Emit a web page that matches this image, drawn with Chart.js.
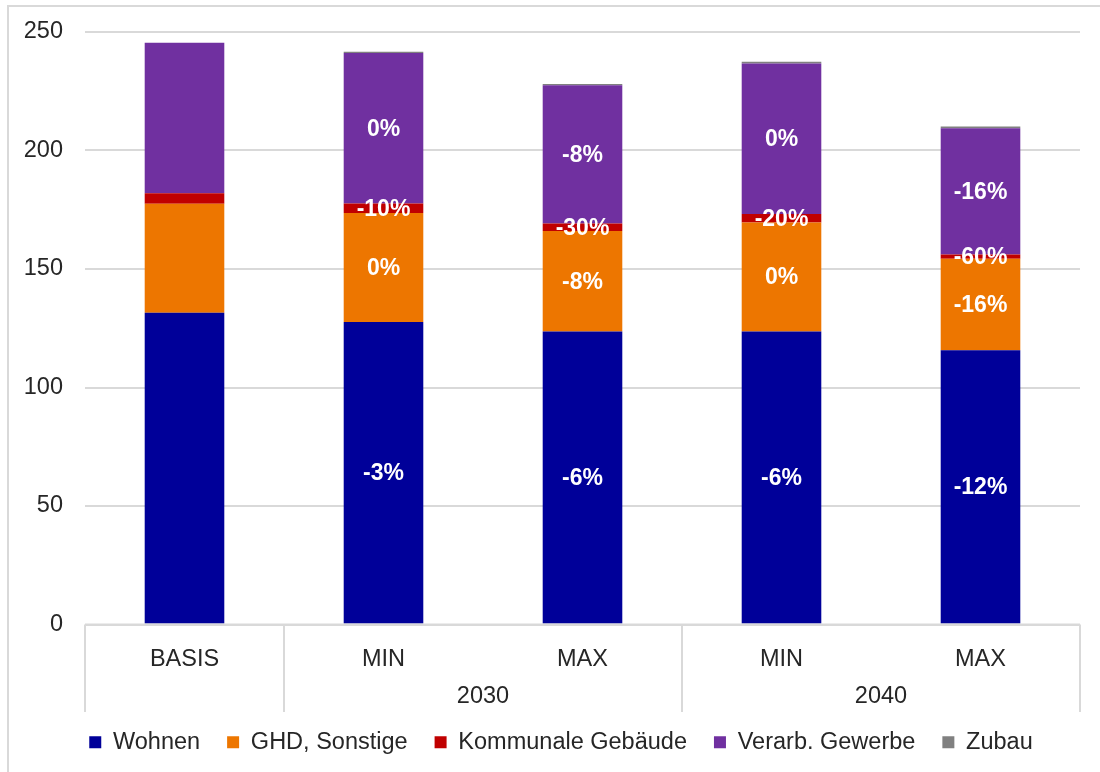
<!DOCTYPE html>
<html>
<head>
<meta charset="utf-8">
<script src="https://cdn.jsdelivr.net/npm/chart.js@4.4.1/dist/chart.umd.min.js"></script>
<style>
  html, body { margin: 0; padding: 0; background: #fff; }
  #wrap { width: 1100px; height: 772px; position: relative; }
</style>
</head>
<body>
<div id="wrap"><canvas id="chart"></canvas></div>
<script>
// categories + groups of the two-level x axis
const categories = ['BASIS', 'MIN', 'MAX', 'MIN', 'MAX'];
const groupLabels = ['', '2030', '2040'];
const groupStart = [0, 1, 3];
const groupEnd = [0, 2, 4];

// series values
const wohnen = [131.5, 127.6, 123.6, 123.6, 115.7];
const ghd = [46.0, 46.0, 42.4, 46.0, 38.6];
const kommunal = [4.5, 4.05, 3.15, 3.6, 1.8];
const verarb = [63.5, 63.5, 58.4, 63.5, 53.3];
const zubau = [0, 0.5, 0.5, 0.7, 0.7];

// change labels printed inside the segments
const wohnenPct = ['', '-3%', '-6%', '-6%', '-12%'];
const ghdPct = ['', '0%', '-8%', '0%', '-16%'];
const kommunalPct = ['', '-10%', '-30%', '-20%', '-60%'];
const verarbPct = ['', '0%', '-8%', '0%', '-16%'];

const yTicks = [0, 50, 100, 150, 200, 250];

const FONT = '"Liberation Sans", Arial, sans-serif';
const TEXT = '#262626';
const GRID = '#d9d9d9';
const FS = 23.5;

const pctLabels = [wohnenPct, ghdPct, kommunalPct, verarbPct, null];

// white percentage labels centred in each segment
const segmentLabels = {
  id: 'segmentLabels',
  afterDatasetsDraw(chart) {
    const ctx = chart.ctx;
    ctx.save();
    ctx.font = 'bold 23px ' + FONT;
    ctx.fillStyle = '#fff';
    ctx.textAlign = 'center';
    ctx.textBaseline = 'middle';
    chart.data.datasets.forEach((ds, i) => {
      const labels = pctLabels[i];
      if (!labels) return;
      chart.getDatasetMeta(i).data.forEach((bar, j) => {
        if (!labels[j]) return;
        const p = bar.getCenterPoint();
        ctx.fillText(labels[j], p.x, p.y + 1);
      });
    });
    ctx.restore();
  }
};

// frame, x baseline, group separators and year labels
const axisGroups = {
  id: 'axisGroups',
  afterLayout(chart) {
    // legend sits a little right of the canvas centre in the original
    if (chart.legend) chart.legend.left = 42;
  },
  beforeDraw(chart) {
    const ctx = chart.ctx;
    ctx.save();
    ctx.strokeStyle = GRID;
    ctx.lineWidth = 2;
    ctx.beginPath();
    ctx.moveTo(8, 772);
    ctx.lineTo(8, 6);
    ctx.lineTo(1100, 6);
    ctx.stroke();
    ctx.restore();
  },
  afterDraw(chart) {
    const ctx = chart.ctx;
    const x = chart.scales.x;
    const area = chart.chartArea;
    const n = categories.length;
    const edge = k => k === 0 ? area.left : k === n ? area.right
      : (x.getPixelForValue(k - 1) + x.getPixelForValue(k)) / 2;
    const bottom = 712;
    ctx.save();
    ctx.strokeStyle = GRID;
    ctx.lineWidth = 2;
    ctx.beginPath();
    ctx.moveTo(area.left, area.bottom);
    ctx.lineTo(area.right, area.bottom);
    const cuts = [0];
    groupEnd.forEach(e => cuts.push(e + 1));
    cuts.forEach(k => {
      const px = Math.round(edge(k));
      ctx.moveTo(px, area.bottom);
      ctx.lineTo(px, bottom);
    });
    ctx.stroke();
    ctx.font = FS + 'px ' + FONT;
    ctx.fillStyle = TEXT;
    ctx.textAlign = 'center';
    ctx.textBaseline = 'middle';
    groupLabels.forEach((g, i) => {
      if (!g) return;
      const cx = (x.getPixelForValue(groupStart[i]) + x.getPixelForValue(groupEnd[i])) / 2;
      ctx.fillText(g, cx, 697);
    });
    ctx.restore();
  }
};

new Chart(document.getElementById('chart'), {
  type: 'bar',
  data: {
    labels: categories,
    datasets: [
      { label: 'Wohnen', data: wohnen, backgroundColor: '#000099' },
      { label: 'GHD, Sonstige', data: ghd, backgroundColor: '#ed7600' },
      { label: 'Kommunale Gebäude', data: kommunal, backgroundColor: '#c00000' },
      { label: 'Verarb. Gewerbe', data: verarb, backgroundColor: '#7030a0' },
      { label: 'Zubau', data: zubau, backgroundColor: '#808080' }
    ]
  },
  options: {
    responsive: true,
    maintainAspectRatio: false,
    animation: false,
    devicePixelRatio: 1,
    datasets: { bar: { categoryPercentage: 1, barPercentage: 0.4 } },
    layout: { padding: { top: 32, right: 20, bottom: 8, left: 0 } },
    plugins: {
      tooltip: { enabled: false },
      legend: {
        position: 'bottom',
        labels: {
          color: TEXT,
          font: { family: FONT, size: FS },
          boxWidth: 12,
          boxHeight: 12,
          padding: 27
        }
      }
    },
    scales: {
      x: {
        stacked: true,
        grid: { display: false },
        border: { display: false },
        ticks: { color: TEXT, font: { family: FONT, size: FS }, padding: 13, maxRotation: 0 },
        afterFit(scale) { scale.height = 79; }
      },
      y: {
        stacked: true,
        min: 0,
        max: 250,
        afterBuildTicks(scale) { scale.ticks = yTicks.map(v => ({ value: v })); },
        grid: { color: GRID, lineWidth: 2, drawTicks: false },
        border: { display: false },
        ticks: { color: TEXT, font: { family: FONT, size: FS }, padding: 22 },
        afterFit(scale) {
          scale.width = 85;
          scale.paddingTop = 0;
          scale.paddingBottom = 0;
        }
      }
    }
  },
  plugins: [segmentLabels, axisGroups]
});
</script>
</body>
</html>
